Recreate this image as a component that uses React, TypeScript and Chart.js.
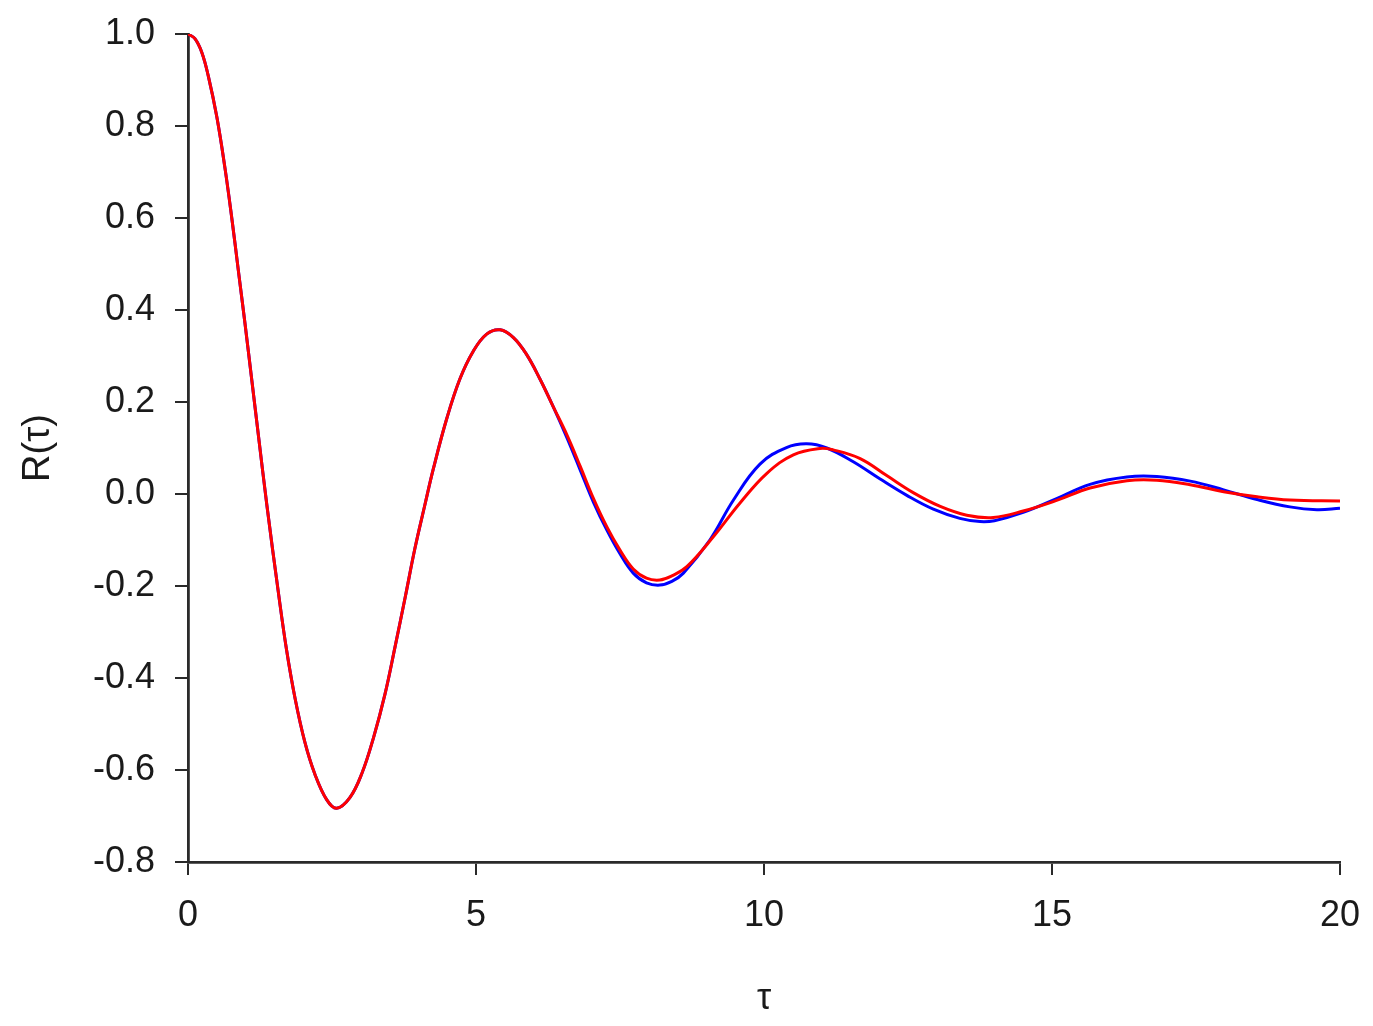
import React, { useEffect, useRef } from "react";
import { Chart, registerables } from "chart.js";

Chart.register(...registerables);

// Shared part of both curves (they coincide up to about τ = 6.3)
const tauCommon = [0, 0.12, 0.24, 0.35, 0.5, 0.64, 0.76, 0.87, 0.99, 1.11, 1.22, 1.37, 1.57, 1.71, 1.86, 2.03, 2.2, 2.41, 2.58, 2.81, 3.02, 3.22, 3.42, 3.59, 3.77, 3.94, 4.11, 4.26, 4.49, 4.72, 4.95, 5.19, 5.42, 5.65, 5.88, 6.11, 6.34];
const rCommon = [1.0, 0.99, 0.96, 0.91, 0.82, 0.71, 0.6, 0.49, 0.37, 0.245, 0.13, -0.025, -0.215, -0.338, -0.445, -0.54, -0.608, -0.665, -0.683, -0.66, -0.607, -0.53, -0.435, -0.335, -0.225, -0.118, -0.025, 0.055, 0.163, 0.25, 0.31, 0.348, 0.357, 0.34, 0.303, 0.25, 0.19];

// Blue curve after τ = 6.34
const tauBlue = [6.58, 6.81, 7.04, 7.27, 7.5, 7.73, 7.96, 8.19, 8.4, 8.6, 9.06, 9.47, 9.93, 10.39, 10.74, 11.09, 11.55, 12.01, 12.48, 12.94, 13.4, 13.75, 14.0, 14.5, 15.08, 15.66, 16.3, 16.82, 17.4, 17.98, 18.56, 19.13, 19.6, 20];
const rBlue = [0.122, 0.052, -0.018, -0.078, -0.13, -0.172, -0.193, -0.198, -0.19, -0.172, -0.1, -0.013, 0.065, 0.101, 0.109, 0.1, 0.07, 0.033, -0.003, -0.033, -0.053, -0.06, -0.058, -0.04, -0.01, 0.021, 0.037, 0.038, 0.028, 0.009, -0.012, -0.028, -0.034, -0.031];

// Red curve after τ = 6.34
const tauRed = [6.58, 6.81, 7.04, 7.27, 7.5, 7.73, 7.96, 8.19, 8.4, 8.66, 9.12, 9.58, 10.05, 10.51, 10.97, 11.2, 11.67, 12.13, 12.59, 13.06, 13.52, 13.98, 14.5, 15.08, 15.66, 16.3, 16.82, 17.4, 17.98, 18.56, 19.13, 20];
const rRed = [0.128, 0.06, -0.01, -0.071, -0.122, -0.163, -0.183, -0.187, -0.178, -0.158, -0.093, -0.02, 0.045, 0.085, 0.099, 0.096, 0.077, 0.04, 0.003, -0.027, -0.046, -0.051, -0.037, -0.014, 0.013, 0.029, 0.03, 0.02, 0.005, -0.006, -0.013, -0.015];

const xTicks = [0, 5, 10, 15, 20];
const yTicks = [-0.8, -0.6, -0.4, -0.2, 0.0, 0.2, 0.4, 0.6, 0.8, 1.0];

const toPoints = (xs: number[], ys: number[]) => xs.map((x, i) => ({ x, y: ys[i] }));

export default function App() {
  const ref = useRef<HTMLCanvasElement | null>(null);

  useEffect(() => {
    if (!ref.current) return;
    const font = { family: "'Liberation Sans', Arial, sans-serif", size: 36 };
    const axisColor = "#2a2a2a";
    const chart = new Chart(ref.current, {
      type: "line",
      data: {
        datasets: [
          {
            label: "red",
            data: toPoints(tauCommon, rCommon).concat(toPoints(tauRed, rRed)),
            borderColor: "#ff0000",
            borderWidth: 3,
            pointRadius: 0,
            tension: 0.4,
            fill: false,
          },
          {
            label: "blue",
            data: toPoints(tauCommon, rCommon).concat(toPoints(tauBlue, rBlue)),
            borderColor: "#0000ff",
            borderWidth: 3,
            pointRadius: 0,
            tension: 0.4,
            fill: false,
          },
        ],
      },
      options: {
        animation: false,
        responsive: false,
        maintainAspectRatio: false,
        layout: { padding: { top: 34, right: 33, left: 0, bottom: 0 } },
        plugins: { legend: { display: false }, tooltip: { enabled: false } },
        scales: {
          x: {
            type: "linear",
            min: 0,
            max: 20,
            afterFit: (s: any) => {
              s.height = 164;
              s.paddingLeft = 0;
              s.paddingRight = 0;
            },
            afterBuildTicks: (s: any) => {
              s.ticks = xTicks.map((v) => ({ value: v }));
            },
            ticks: {
              color: "#1a1a1a",
              font,
              padding: 19,
              maxRotation: 0,
              callback: (v: any) => String(v),
            },
            grid: {
              display: true,
              drawOnChartArea: false,
              drawTicks: true,
              tickLength: 13,
              color: axisColor,
              lineWidth: 2,
            },
            border: { display: true, color: axisColor, width: 2.8 },
            title: {
              display: true,
              text: "τ",
              color: "#1a1a1a",
              font,
              padding: { top: 0, bottom: 5 },
            },
          },
          y: {
            type: "linear",
            min: -0.8,
            max: 1.0,
            afterFit: (s: any) => {
              s.width = 188;
              s.paddingTop = 0;
              s.paddingBottom = 0;
            },
            afterBuildTicks: (s: any) => {
              s.ticks = yTicks.map((v) => ({ value: v }));
            },
            ticks: {
              color: "#1a1a1a",
              font,
              padding: 20,
              callback: (v: any) => Number(v).toFixed(1),
            },
            grid: {
              display: true,
              drawOnChartArea: false,
              drawTicks: true,
              tickLength: 13,
              color: axisColor,
              lineWidth: 2,
            },
            border: { display: true, color: axisColor, width: 2.8 },
            title: {
              display: true,
              text: "R(τ)",
              color: "#1a1a1a",
              font: { ...font, size: 38 },
              padding: { top: 16, bottom: 0 },
            },
          },
        },
      },
    });
    return () => chart.destroy();
  }, []);

  return (
    <div style={{ position: "fixed", left: 0, top: 0, width: 1373, height: 1026, background: "#fff" }}>
      <canvas ref={ref} width={1373} height={1026} style={{ width: 1373, height: 1026, display: "block" }} />
    </div>
  );
}
